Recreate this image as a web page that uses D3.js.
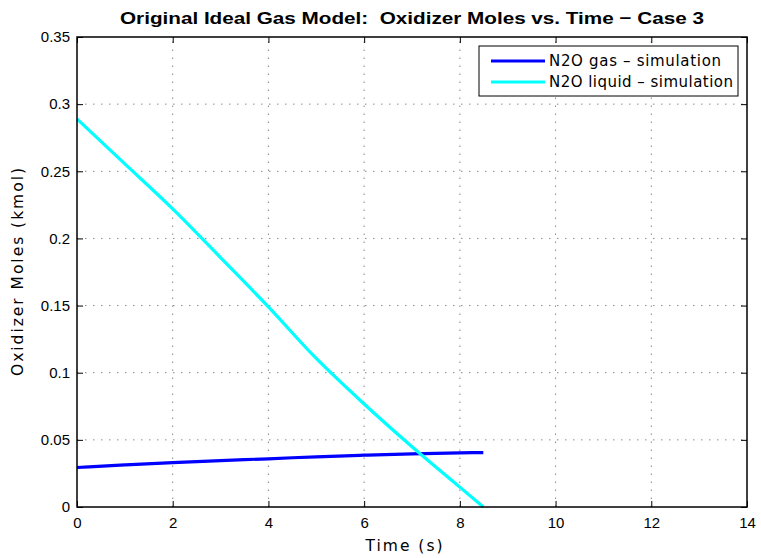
<!DOCTYPE html>
<html>
<head>
<meta charset="utf-8">
<script src="https://cdn.jsdelivr.net/npm/d3@7"></script>
<style>
  html, body { margin: 0; padding: 0; background: #fff; }
  svg { display: block; }
  text { font-family: "Liberation Sans", Arial, sans-serif; fill: #000; white-space: pre; }
  .lbl { font-family: "DejaVu Sans", "Liberation Sans", sans-serif; }
</style>
</head>
<body>
<svg id="chart" width="761" height="558"></svg>
<script>
// Time samples (s)
const timeGas = [0, 1, 2, 3, 4, 5, 6, 7, 8, 8.49];
const timeLiquid = [0, 1, 2, 3, 4, 5, 6, 7, 8, 8.49];
// Oxidizer moles (kmol)
const gasMoles = [0.0294, 0.0313, 0.0331, 0.0346, 0.0359, 0.0374, 0.0386, 0.0396, 0.0403, 0.0405];
const liquidMoles = [0.289, 0.2555, 0.222, 0.1857, 0.149, 0.1106, 0.0767, 0.0449, 0.0148, 0.0];

const xTicks = [0, 2, 4, 6, 8, 10, 12, 14];
const yTicks = [0, 0.05, 0.1, 0.15, 0.2, 0.25, 0.3, 0.35];
const yTickLabels = ["0", "0.05", "0.1", "0.15", "0.2", "0.25", "0.3", "0.35"];

const seriesNames = ["N2O gas \u2013 simulation", "N2O liquid \u2013 simulation"];
const seriesColors = ["#0000ff", "#00ffff"];

const svg = d3.select("#chart");
const plot = { left: 77, right: 747, top: 37, bottom: 507 };

const x = d3.scaleLinear().domain([0, 14]).range([plot.left, plot.right]);
const y = d3.scaleLinear().domain([0, 0.35]).range([plot.bottom, plot.top]);

// Dotted grid
const grid = svg.append("g").attr("stroke", "#8a8a8a").attr("stroke-width", 1)
  .attr("stroke-dasharray", "1.5,6.5");
xTicks.slice(1, -1).forEach(t => {
  grid.append("line").attr("x1", x(t)).attr("x2", x(t))
    .attr("y1", plot.bottom).attr("y2", plot.top);
});
yTicks.slice(1, -1).forEach(t => {
  grid.append("line").attr("y1", y(t)).attr("y2", y(t))
    .attr("x1", plot.left).attr("x2", plot.right);
});

// Data lines
const series = [
  { t: timeGas, v: gasMoles },
  { t: timeLiquid, v: liquidMoles }
];
const lineGen = d3.line().x(d => x(d[0])).y(d => y(d[1])).curve(d3.curveMonotoneX);
series.forEach((s, i) => {
  svg.append("path")
    .datum(s.t.map((t, k) => [t, s.v[k]]))
    .attr("fill", "none")
    .attr("stroke", seriesColors[i])
    .attr("stroke-width", 3.2)
    .attr("d", lineGen);
});

// Axes with inward ticks on all four sides
const tickLen = 6;
const fs = 15;
svg.append("g").attr("transform", `translate(0,${plot.bottom})`)
  .call(d3.axisBottom(x).tickValues(xTicks).tickSizeInner(-tickLen).tickSizeOuter(0).tickPadding(10))
  .call(g => g.selectAll("text").attr("font-size", fs).attr("font-family", "Liberation Sans, Arial, sans-serif"));
svg.append("g").attr("transform", `translate(0,${plot.top})`)
  .call(d3.axisTop(x).tickValues(xTicks).tickSizeInner(-tickLen).tickSizeOuter(0).tickFormat(""));
svg.append("g").attr("transform", `translate(${plot.left},0)`)
  .call(d3.axisLeft(y).tickValues(yTicks).tickSizeInner(-tickLen).tickSizeOuter(0).tickPadding(7)
    .tickFormat((d, i) => yTickLabels[i]))
  .call(g => g.selectAll("text").attr("font-size", fs).attr("font-family", "Liberation Sans, Arial, sans-serif"));
svg.append("g").attr("transform", `translate(${plot.right},0)`)
  .call(d3.axisRight(y).tickValues(yTicks).tickSizeInner(-tickLen).tickSizeOuter(0).tickFormat(""));
svg.selectAll(".domain").remove();
svg.selectAll(".tick line").attr("stroke", "#000").attr("stroke-width", 1);

// Frame
svg.append("rect")
  .attr("x", plot.left).attr("y", plot.top)
  .attr("width", plot.right - plot.left).attr("height", plot.bottom - plot.top)
  .attr("fill", "none").attr("stroke", "#000").attr("stroke-width", 1.5);

// Title and axis labels
svg.append("text")
  .attr("x", (plot.left + plot.right) / 2).attr("y", 24)
  .attr("text-anchor", "middle").attr("font-size", 17).attr("font-weight", "bold")
  .attr("textLength", 584).attr("lengthAdjust", "spacingAndGlyphs")
  .text("Original Ideal Gas Model:  Oxidizer Moles vs. Time \u2212 Case 3");
svg.append("text").attr("class", "lbl")
  .attr("x", 404).attr("y", 551)
  .attr("text-anchor", "middle").attr("font-size", 15.5)
  .attr("textLength", 77).attr("lengthAdjust", "spacing")
  .text("Time (s)");
svg.append("text").attr("class", "lbl")
  .attr("transform", `translate(23,${(plot.top + plot.bottom) / 2}) rotate(-90)`)
  .attr("text-anchor", "middle").attr("font-size", 15.5)
  .attr("textLength", 208).attr("lengthAdjust", "spacing")
  .text("Oxidizer Moles (kmol)");

// Legend
const legendWidths = [172, 184];
const legend = svg.append("g");
legend.append("rect")
  .attr("x", 479).attr("y", 46).attr("width", 259).attr("height", 50)
  .attr("fill", "#fff").attr("stroke", "#000").attr("stroke-width", 1);
seriesNames.forEach((name, i) => {
  const ly = 61 + i * 21;
  legend.append("line").attr("x1", 491).attr("x2", 545).attr("y1", ly).attr("y2", ly)
    .attr("stroke", seriesColors[i]).attr("stroke-width", 3.2);
  legend.append("text").attr("class", "lbl").attr("x", 549).attr("y", ly + 5)
    .attr("font-size", 15)
    .attr("textLength", legendWidths[i]).attr("lengthAdjust", "spacing")
    .text(name);
});
</script>
</body>
</html>
